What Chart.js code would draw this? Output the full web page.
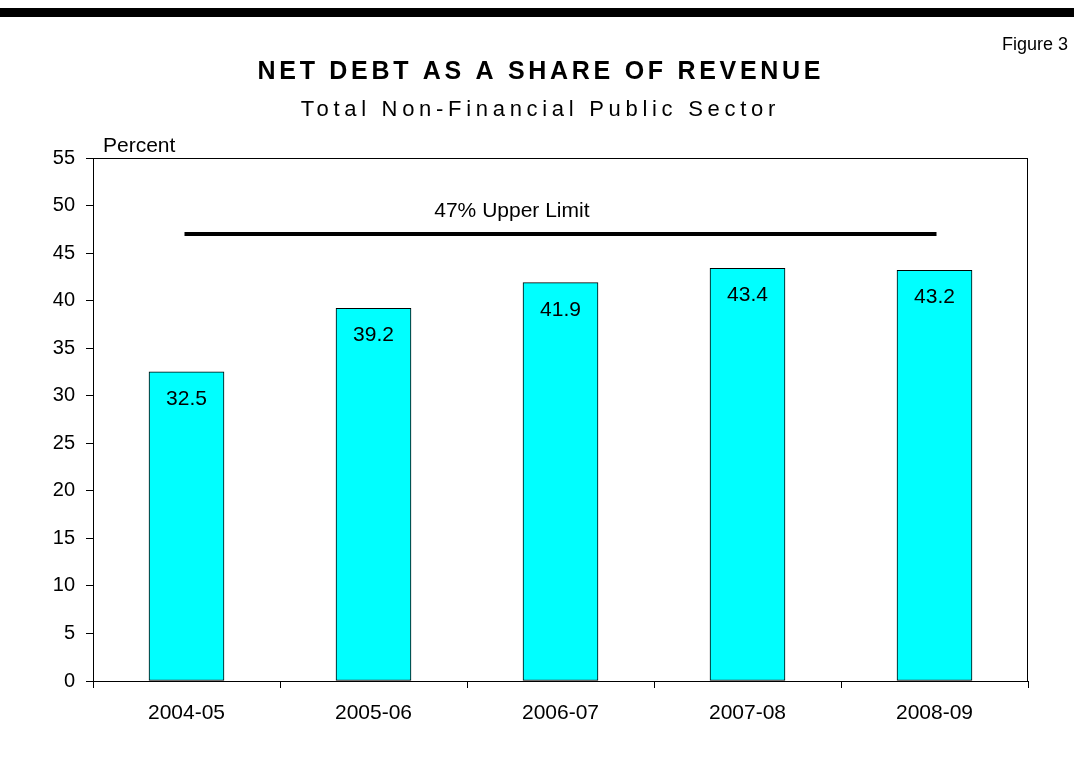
<!DOCTYPE html>
<html>
<head>
<meta charset="utf-8">
<script src="https://cdn.jsdelivr.net/npm/chart.js@4"></script>
<style>
  body { margin: 0; background: #fff; }
  #wrap { width: 1074px; height: 765px; position: relative; }
</style>
</head>
<body>
<div id="wrap"><canvas id="graficaDeuda"></canvas></div>
<script>
const years = ['2004-05', '2005-06', '2006-07', '2007-08', '2008-09']
const netDebt = [32.5, 39.2, 41.9, 43.4, 43.2]
const upperLimit = [47, 47, 47, 47, 47]
const yTicks = [0, 5, 10, 15, 20, 25, 30, 35, 40, 45, 50, 55]

const fontFam = '"Liberation Sans", Arial, sans-serif'

// letter-spaced text centred on x (canvas adds the spacing after the last glyph too)
function spacedText(c, txt, x, y, spacing) {
  c.letterSpacing = spacing + 'px'
  const w = c.measureText(txt).width - spacing
  c.textAlign = 'left'
  c.fillText(txt, x - w / 2, y)
  c.letterSpacing = '0px'
}

const cabecera = {
  id: 'cabecera',
  beforeDraw(chart) {
    const c = chart.ctx
    c.save()
    c.fillStyle = '#000'
    c.fillRect(0, 8, chart.width, 9)
    c.textBaseline = 'alphabetic'

    c.font = '18px ' + fontFam
    c.textAlign = 'right'
    c.fillText('Figure 3', 1068, 50)

    c.font = 'bold 25px ' + fontFam
    spacedText(c, 'NET DEBT AS A SHARE OF REVENUE', 539, 79, 3.7)

    c.font = '22px ' + fontFam
    spacedText(c, 'Total Non-Financial Public Sector', 538, 116, 4.7)

    c.font = '21px ' + fontFam
    c.textAlign = 'left'
    c.fillText('Percent', chart.chartArea.left + 10, 152)
    c.restore()
  },
  afterDraw(chart) {
    const a = chart.chartArea
    const c = chart.ctx
    c.save()
    c.strokeStyle = '#000'
    c.lineWidth = 1
    c.strokeRect(a.left + 0.5, a.top + 0.5, a.right - a.left - 1, a.bottom - a.top)
    c.restore()
  }
}

const etiquetas = {
  id: 'etiquetas',
  afterDatasetsDraw(chart) {
    const c = chart.ctx
    const x = chart.scales.x
    const y = chart.scales.y
    c.save()
    c.fillStyle = '#000'
    c.font = '21px ' + fontFam
    c.textAlign = 'center'
    c.textBaseline = 'alphabetic'
    chart.getDatasetMeta(0).data.forEach((bar, i) => {
      c.fillText(netDebt[i].toFixed(1), bar.x, bar.y + 33)
    })
    c.fillText('47% Upper Limit', x.getPixelForValue(1.74), y.getPixelForValue(upperLimit[0]) - 17)
    c.restore()
  }
}

new Chart(document.getElementById('graficaDeuda'), {
  type: 'bar',
  data: {
    labels: years,
    datasets: [{
      type: 'bar',
      data: netDebt,
      backgroundColor: '#00ffff',
      borderColor: '#000',
      borderWidth: 1,
      borderSkipped: false,
      barThickness: 75,
      categoryPercentage: 1.0,
      order: 2
    }, {
      type: 'line',
      data: upperLimit,
      borderColor: '#000',
      borderWidth: 4,
      borderCapStyle: 'square',
      pointRadius: 0,
      fill: false,
      order: 1
    }]
  },
  options: {
    responsive: true,
    maintainAspectRatio: false,
    animation: false,
    layout: { padding: { top: 158, left: 10, right: 46, bottom: 24 } },
    plugins: {
      legend: { display: false },
      tooltip: { enabled: false }
    },
    scales: {
      x: {
        grid: { offset: true, drawOnChartArea: false, tickLength: 7, color: '#000' },
        border: { color: '#000', width: 1 },
        ticks: { color: '#000', font: { family: fontFam, size: 21 }, padding: 13, maxRotation: 0 },
        afterFit: (s) => { s.height = 60 }
      },
      y: {
        min: 0,
        max: 55,
        grid: { drawOnChartArea: false, tickLength: 7, color: '#000' },
        border: { color: '#000', width: 1 },
        ticks: { color: '#000', font: { family: fontFam, size: 20 }, padding: 11, stepSize: 5 },
        afterBuildTicks: (s) => { s.ticks = yTicks.map(v => ({ value: v })) },
        afterFit: (s) => { s.width = 83 }
      }
    }
  },
  plugins: [cabecera, etiquetas]
});
</script>
</body>
</html>
